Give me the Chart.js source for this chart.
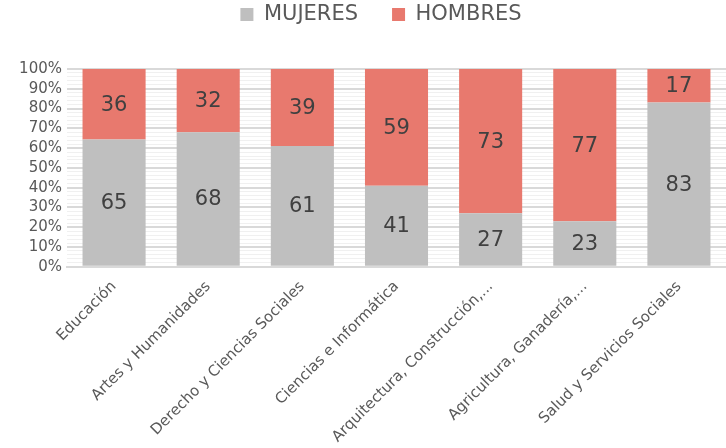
<!DOCTYPE html>
<html>
<head>
<meta charset="utf-8">
<script src="https://cdn.jsdelivr.net/npm/chart.js@4"></script>
<style>
  html, body { margin: 0; padding: 0; background: #fff; }
  #wrap { width: 726px; height: 448px; }
</style>
</head>
<body>
<div id="wrap"><canvas id="myChart"></canvas></div>
<script>
let categories = [
    'Educación',
    'Artes y Humanidades',
    'Derecho y Ciencias Sociales',
    'Ciencias e Informática',
    'Arquitectura, Construcción,...',
    'Agricultura, Ganadería,...',
    'Salud y Servicios Sociales'
]
let mujeres = [65, 68, 61, 41, 27, 23, 83]
let hombres = [36, 32, 39, 59, 73, 77, 17]

let GRAY = '#bfbfbf'
let RED = '#e8796e'
let FONT = '"DejaVu Sans", sans-serif'

// 100% stacked: each bar is scaled to its own total
const share = (a, b) => a.map((v, i) => v / (v + b[i]) * 100);

// draws the raw value in the middle of each segment
const valueLabels = {
    id: 'valueLabels',
    afterDatasetsDraw(chart) {
        let c = chart.ctx;
        c.save();
        c.font = '21px ' + FONT;
        c.fillStyle = '#404040';
        c.textAlign = 'center';
        c.textBaseline = 'middle';
        chart.data.datasets.forEach((ds, di) => {
            chart.getDatasetMeta(di).data.forEach((bar, i) => {
                let mid = (bar.y + bar.base) / 2;
                c.fillText(ds.raw[i], bar.x, mid + 1);
            });
        });
        c.restore();
    }
};

// fixed legend block height so the plot starts where the original does,
// and nudge the legend a bit right like in the original
const legendSpace = {
    id: 'legendSpace',
    beforeInit(chart) {
        const lg = chart.legend;
        const fit = lg.fit;
        lg.fit = function () {
            fit.bind(lg)();
            this.height = 99;
        };
        const draw = lg.draw;
        lg.draw = function () {
            chart.ctx.save();
            chart.ctx.translate(18, 0);
            draw.bind(lg)();
            chart.ctx.restore();
        };
    }
};

let ctx = document.getElementById("myChart").getContext("2d");

let chart = new Chart(ctx, {
    type: 'bar',
    data: {
        labels: categories,
        datasets: [{
            label: 'MUJERES',
            data: share(mujeres, hombres),
            raw: mujeres,
            backgroundColor: GRAY,
            barPercentage: 0.67,
            categoryPercentage: 1,
        },
        {
            label: 'HOMBRES',
            data: share(hombres, mujeres),
            raw: hombres,
            backgroundColor: RED,
            barPercentage: 0.67,
            categoryPercentage: 1,
        }]
    },
    plugins: [valueLabels, legendSpace],
    options: {
        responsive: true,
        maintainAspectRatio: false,
        animation: false,
        layout: { padding: { top: -30, right: 0, bottom: -1, left: 0 } },
        plugins: {
            tooltip: { enabled: false },
            legend: {
                position: 'top',
                labels: {
                    color: '#595959',
                    font: { family: FONT, size: 21 },
                    boxWidth: 13,
                    boxHeight: 13,
                    padding: 34,
                }
            }
        },
        scales: {
            x: {
                stacked: true,
                grid: { display: false },
                border: { display: true, color: '#d9d9d9', width: 2 },
                ticks: {
                    color: '#595959',
                    font: { family: FONT, size: 15 },
                    maxRotation: 45,
                    minRotation: 45,
                    autoSkip: false,
                }
            },
            y: {
                stacked: true,
                min: 0,
                max: 100,
                afterFit: s => { s.width = 67; },
                border: { display: false },
                grid: {
                    color: c => c.tick.value % 10 === 0 ? '#d9d9d9' : '#f0f0f0',
                    lineWidth: c => c.tick.value % 10 === 0 ? 2 : 1,
                    drawTicks: false,
                },
                ticks: {
                    stepSize: 2,
                    autoSkip: false,
                    padding: 5,
                    color: '#595959',
                    font: { family: FONT, size: 15 },
                    callback: v => v % 10 === 0 ? v + '%' : ''
                }
            }
        }
    }
});
</script>
</body>
</html>
